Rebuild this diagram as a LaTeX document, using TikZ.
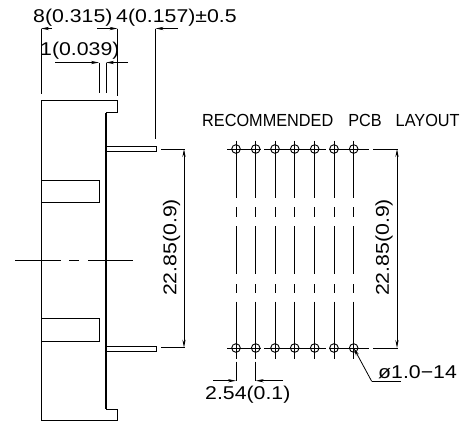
\documentclass[tikz,border=0pt]{standalone}
\usepackage{fontspec}
\setmainfont[FakeStretch=1.15]{Liberation Sans}
\newfontfamily\plainf[FakeStretch=0.93]{Liberation Sans}
\usetikzlibrary{arrows.meta}
\tikzset{
  dwg/.style={line width=0.9pt,black},
  thick dwg/.style={line width=1.1pt,black},
  dimtip/.style={-{Stealth[length=8pt,width=3.2pt]},line width=0.8pt},
  dimboth/.style={{Stealth[length=8pt,width=3.2pt]}-{Stealth[length=8pt,width=3.2pt]},line width=0.8pt},
  lbl/.style={inner sep=0pt,font=\fontsize{18.5}{21}\selectfont},
  hole/.style={circle,draw,line width=0.9pt,minimum size=8.6pt,inner sep=0pt},
}
\begin{document}
\begin{tikzpicture}[x=1pt,y=-1pt]
\useasboundingbox (0,0) rectangle (464,421);
% side view body
\draw[thick dwg] (106,112.5) -- (106,409);
\draw[dwg] (106,112.5) -- (117.5,112.5) -- (117.5,100) -- (41,100) -- (41,420) -- (117.5,420) -- (117.5,409) -- (106,409);
\draw[dwg] (41,180.5) -- (99,180.5) -- (99,202) -- (41,202);
\draw[dwg] (41,318.5) -- (99,318.5) -- (99,341) -- (41,341);
% pins
\draw[dwg] (106,146.5) rectangle (156,151.5);
\draw[dwg] (106,346) rectangle (156,351);
% centre line
\draw[dwg] (15,260.7) -- (61,260.7) (69,260.7) -- (79,260.7) (88,260.7) -- (133,260.7);
% extension lines
\coordinate (e1) at (41,28.5);
\coordinate (e2) at (117.5,28.5);
\coordinate (e3) at (155.5,28.5);
\coordinate (e4) at (99,62.5);
\coordinate (e5) at (106,62.5);
\draw[dwg] (e1) -- (41,94);
\draw[dwg] (e2) -- (117.5,96);
\draw[dwg] (e3) -- (155.5,139);
\draw[dwg] (e4) -- (99,93);
\draw[dwg] (e5) -- (106,93);
% top dims
\draw[dimtip] (52,28.5) -- (e1);
\draw[dimtip] (97,28.5) -- (e2);
\draw[dimtip] (178,28.5) -- (e3);
\draw[dimtip] (55,62.5) -- (e4);
\draw[dimtip] (128,62.5) -- (e5);
\node[lbl,anchor=west] (t1) at (33,17.5) {8(0.315)};
\node[lbl,anchor=west] (t2) at (116,17.5) {4(0.157)±0.5};
\node[lbl,anchor=west] (t3) at (40,51) {1(0.039)};
% left vertical dim
\coordinate (d1) at (184,149);
\coordinate (d2) at (184,347.7);
\draw[dwg] (161,149) -- (184.5,149);
\draw[dwg] (161,347.7) -- (184.5,347.7);
\draw[dimboth] (d1) -- (d2);
\node[lbl,rotate=90] (t4) at (171.5,247.5) {22.85(0.9)};
% PCB layout
\node[inner sep=0pt,font=\plainf\fontsize{17.5}{18}\selectfont,anchor=west] (t5) at (202,120.5) {RECOMMENDED\hspace{15pt}PCB\hspace{14pt}LAYOUT};
\draw[dwg] (227.3,149) -- (260.7,149) (264,149) -- (325.7,149) (329,149) -- (369,149) (373,149) -- (397.5,149);
\draw[dwg] (227.3,348) -- (260.7,348) (264,348) -- (325.7,348) (329,348) -- (369,348) (373,348) -- (397.5,348);
\foreach \n/\x in {a/236,b/255.7,c/275,d/294.7,e/314.7,f/334,g/353.7}{
  \draw[dwg] (\x,140.7) -- (\x,198) (\x,207.3) -- (\x,217.3) (\x,226) -- (\x,274) (\x,284) -- (\x,293.3) (\x,301.7) -- (\x,359.3);
  \node[hole] (top\n) at (\x,149) {};
  \node[hole] (bot\n) at (\x,348) {};
}
\coordinate (e6) at (236,380.7);
\coordinate (e7) at (255.7,380.7);
\draw[dwg] (236,361.7) -- (e6) (255.7,361.7) -- (e7);
\draw[dimtip] (213,380.7) -- (e6);
\draw[dimtip] (283,380.7) -- (e7);
\node[lbl,anchor=west] (t6) at (205,395) {2.54(0.1)};
\coordinate (d3) at (397,149);
\coordinate (d4) at (397,348);
\draw[dimboth] (d3) -- (d4);
\node[lbl,rotate=90] (t7) at (384,247.5) {22.85(0.9)};
% hole leader
\coordinate (ld) at (371.7,381.3);
\draw[dwg] (400.7,381.3) -- (ld);
\draw[dimtip] (ld) -- (botg.center);
\node[lbl,anchor=west] (t8) at (378,372) {ø1.0−14};
\end{tikzpicture}
\end{document}
